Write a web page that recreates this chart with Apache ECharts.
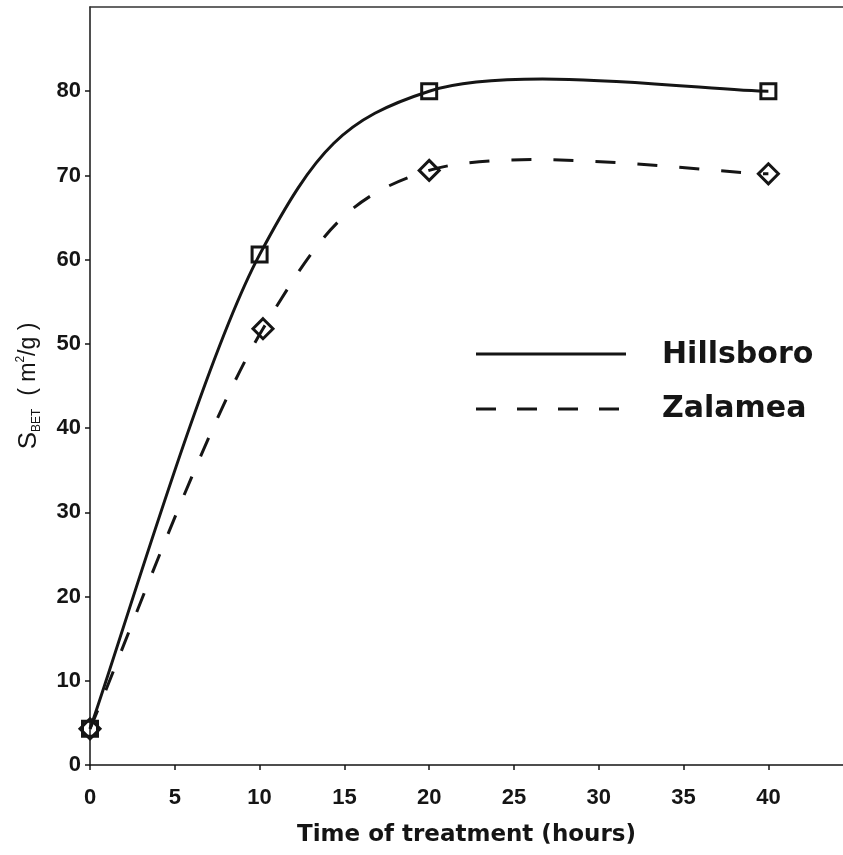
<!DOCTYPE html>
<html>
<head>
<meta charset="utf-8">
<script src="https://cdn.jsdelivr.net/npm/echarts@6/dist/echarts.min.js"></script>
<style>html,body{margin:0;padding:0;background:#fff}#c{width:843px;height:855px}</style>
</head>
<body>
<div id="c"></div>
<script>
const hillsboroX = [0, 10, 20, 40];
const hillsboroY = [4.3, 60.6, 80.0, 80.0];
const zalameaX = [0, 10.2, 20, 40];
const zalameaY = [4.3, 51.8, 70.6, 70.2];
const xTicks = [0, 5, 10, 15, 20, 25, 30, 35, 40];
const yTicks = [0, 10, 20, 30, 40, 50, 60, 70, 80];
const seriesNames = ['Hillsboro', 'Zalamea'];

const INK = '#151515';
const chart = echarts.init(document.getElementById('c'), null, {renderer: 'canvas'});
const numFont = {fontFamily: 'Liberation Sans', fontWeight: 'bold', fontSize: 22, color: INK};

function pairs(xs, ys) { return xs.map((x, i) => [x, ys[i]]); }

// Smoothed (Catmull-Rom style bezier) curve through the data points, positioned by the axes
function curveSeries(name, data, dash) {
  return {
    name: name, type: 'custom', coordinateSystem: 'cartesian2d', z: 2,
    data: data,
    renderItem: function (params, api) {
      if (params.dataIndex !== 0) return null;
      const p = data.map(d => api.coord(d));
      const n = p.length;
      let d = 'M' + p[0][0] + ' ' + p[0][1];
      for (let i = 0; i < n - 1; i++) {
        const p0 = p[Math.max(i - 1, 0)], p1 = p[i], p2 = p[i + 1], p3 = p[Math.min(i + 2, n - 1)];
        const c1x = p1[0] + (p2[0] - p0[0]) / 6, c1y = p1[1] + (p2[1] - p0[1]) / 6;
        const c2x = p2[0] - (p3[0] - p1[0]) / 6, c2y = p2[1] - (p3[1] - p1[1]) / 6;
        d += ' C' + c1x + ' ' + c1y + ' ' + c2x + ' ' + c2y + ' ' + p2[0] + ' ' + p2[1];
      }
      return {
        type: 'path',
        shape: {pathData: d},
        style: {fill: 'none', stroke: INK, lineWidth: 3, lineDash: dash, lineCap: 'butt'}
      };
    }
  };
}

chart.setOption({
  animation: false,
  backgroundColor: '#fff',
  grid: {left: 90, right: 0, top: 7, bottom: 90},
  xAxis: [{
    type: 'value', min: 0, max: 44.4, interval: 5, position: 'bottom',
    axisLine: {show: true, onZero: false, lineStyle: {color: INK, width: 1.5}},
    axisTick: {show: true, length: 5, inside: false, customValues: xTicks, lineStyle: {color: INK, width: 1.5}},
    axisLabel: Object.assign({margin: 22, customValues: xTicks}, numFont),
    splitLine: {show: false},
    name: 'Time of treatment (hours)', nameLocation: 'middle', nameGap: 59,
    nameTextStyle: {fontFamily: 'DejaVu Sans', fontWeight: 'bold', fontSize: 23, color: INK}
  }, {
    type: 'value', min: 0, max: 44.4, position: 'top',
    axisLine: {show: true, onZero: false, lineStyle: {color: '#333', width: 1.5}},
    axisTick: {show: false}, axisLabel: {show: false}, splitLine: {show: false}
  }],
  yAxis: {
    type: 'value', min: 0, max: 90, interval: 10,
    axisLine: {show: true, onZero: false, lineStyle: {color: INK, width: 1.5}},
    axisTick: {show: true, length: 5, customValues: yTicks, lineStyle: {color: INK, width: 1.5}},
    axisLabel: Object.assign({margin: 9, customValues: yTicks}, numFont),
    splitLine: {show: false},
    name: '{s|S}{sub|BET}{n|  ( m}{sup|2}{n|/g )}',
    nameLocation: 'middle', nameRotate: 90, nameGap: 47,
    nameTextStyle: {
      color: INK,
      rich: {
        s: {fontFamily: 'Liberation Sans', fontSize: 26, color: INK, lineHeight: 28, verticalAlign: 'middle'},
        n: {fontFamily: 'Liberation Sans', fontSize: 23, color: INK, lineHeight: 28, verticalAlign: 'middle'},
        sub: {fontFamily: 'Liberation Sans', fontSize: 12, color: INK, lineHeight: 28, verticalAlign: 'bottom'},
        sup: {fontFamily: 'Liberation Sans', fontSize: 12, color: INK, lineHeight: 28, verticalAlign: 'top'}
      }
    }
  },
  series: [
    curveSeries(seriesNames[0], pairs(hillsboroX, hillsboroY), null),
    curveSeries(seriesNames[1], pairs(zalameaX, zalameaY), [20, 22]),
    {
      name: seriesNames[0], type: 'scatter', z: 3,
      data: pairs(hillsboroX, hillsboroY),
      symbol: 'rect', symbolSize: 15,
      itemStyle: {color: 'rgba(255,255,255,0)', borderColor: INK, borderWidth: 3, opacity: 1}
    }, {
      name: seriesNames[1], type: 'scatter', z: 3,
      data: pairs(zalameaX, zalameaY),
      symbol: 'diamond', symbolSize: 20,
      itemStyle: {color: 'rgba(255,255,255,0)', borderColor: INK, borderWidth: 3, opacity: 1}
    }
  ],
  graphic: [
    {type: 'line', shape: {x1: 476, y1: 354, x2: 626, y2: 354}, style: {stroke: INK, lineWidth: 3}},
    {type: 'text', x: 662, y: 355, style: {text: seriesNames[0], fontFamily: 'DejaVu Sans', fontWeight: 'bold', fontSize: 30, fill: INK, textVerticalAlign: 'middle'}},
    {type: 'line', shape: {x1: 476, y1: 409, x2: 626, y2: 409}, style: {stroke: INK, lineWidth: 3, lineDash: [20, 21]}},
    {type: 'text', x: 662, y: 409, style: {text: seriesNames[1], fontFamily: 'DejaVu Sans', fontWeight: 'bold', fontSize: 30, fill: INK, textVerticalAlign: 'middle'}}
  ]
});
</script>
</body>
</html>
